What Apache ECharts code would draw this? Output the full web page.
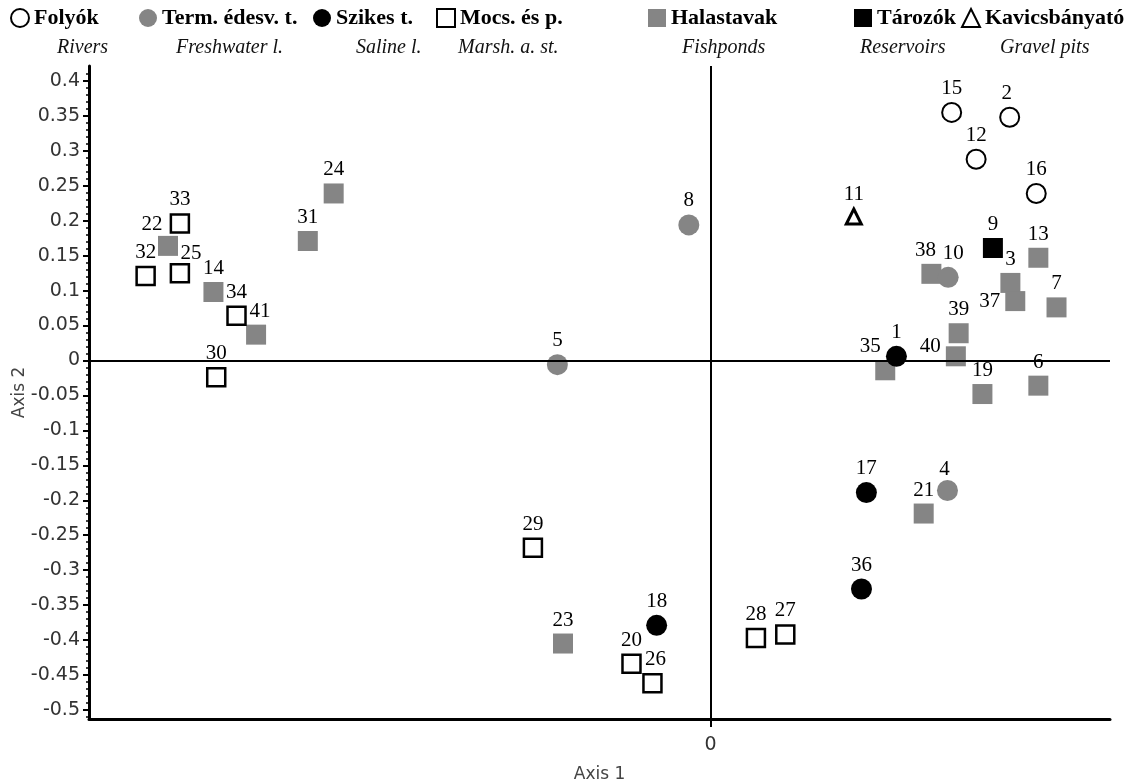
<!DOCTYPE html>
<html>
<head>
<meta charset="utf-8">
<script src="https://cdn.jsdelivr.net/npm/echarts@6/dist/echarts.min.js"></script>
<style>html,body{margin:0;padding:0;background:#fff}#c{width:1145px;height:784px}</style>
</head>
<body>
<div id="c"></div>
<script>
// ---- data ----
const seriesNames = ['Folyók','Term. édesv. t.','Szikes t.','Mocs. és p.','Halastavak','Tározók','Kavicsbányató'];
const englishNames = ['Rivers','Freshwater l.','Saline l.','Marsh. a. st.','Fishponds','Reservoirs','Gravel pits'];

const riversId = [15, 2, 12, 16];
const riversX  = [0.345, 0.428, 0.380, 0.466];
const riversY  = [0.355, 0.348, 0.288, 0.239];

const freshId = [8, 5, 10, 4];
const freshX  = [-0.031, -0.219, 0.340, 0.339];
const freshY  = [0.194, -0.006, 0.119, -0.186];

const salineId = [1, 17, 36, 18];
const salineX  = [0.266, 0.223, 0.216, -0.077];
const salineY  = [0.006, -0.189, -0.327, -0.379];

const marshId = [33, 32, 25, 34, 30, 29, 20, 26, 28, 27];
const marshX  = [-0.759, -0.808, -0.759, -0.678, -0.707, -0.254, -0.113, -0.083, 0.065, 0.107];
const marshY  = [0.196, 0.121, 0.125, 0.064, -0.024, -0.268, -0.434, -0.462, -0.397, -0.392];

const fishId = [24, 31, 22, 14, 41, 23, 38, 13, 3, 37, 7, 39, 40, 35, 19, 6, 21];
const fishX  = [-0.539, -0.576, -0.776, -0.711, -0.650, -0.211, 0.316, 0.469, 0.429, 0.436, 0.495, 0.355, 0.351, 0.250, 0.389, 0.469, 0.305];
const fishY  = [0.239, 0.171, 0.164, 0.098, 0.037, -0.405, 0.124, 0.147, 0.111, 0.085, 0.076, 0.039, 0.006, -0.014, -0.048, -0.036, -0.219];

const resId = [9];
const resX  = [0.404];
const resY  = [0.161];

const gravelId = [11];
const gravelX  = [0.205];
const gravelY  = [0.206];

const yTickLabels = [0.4, 0.35, 0.3, 0.25, 0.2, 0.15, 0.1, 0.05, 0, -0.05, -0.1, -0.15, -0.2, -0.25, -0.3, -0.35, -0.4, -0.45, -0.5];
const xTickLabels = [0];

// ---- layout tweaks for point labels ----
const labelTweaks = {
  22: {offset: [-16, 2]},
  25: {offset: [11, 4]},
  35: {offset: [-15, 0]},
  37: {position: 'left', distance: 5},
  40: {position: 'left', distance: 5, offset: [0, -10]},
  10: {offset: [5, 0]},
  38: {offset: [-6, 0]},
  2:  {offset: [-3, 0]},
  41: {offset: [4, 0]},
  26: {offset: [3, 0]},
  4:  {offset: [-3, 3]}
};

const yMinorTicks = [];
for (let k = -51; k <= 41; k++) yMinorTicks.push(k / 100);

function build(ids, xs, ys) {
  return ids.map((id, i) => {
    const item = {value: [xs[i], ys[i], id]};
    if (labelTweaks[id]) item.label = labelTweaks[id];
    return item;
  });
}

const GRAY = '#858585';
const labelStyle = {
  show: true, position: 'top', distance: 3,
  formatter: p => String(p.value[2]),
  fontFamily: '"Liberation Serif", serif', fontSize: 21, color: '#000'
};

function mkSeries(name, ids, xs, ys, symbol, size, itemStyle, z) {
  return {
    type: 'scatter', name, symbol, symbolSize: size, z,
    data: build(ids, xs, ys),
    itemStyle: Object.assign({opacity: 1}, itemStyle),
    label: labelStyle,
    emphasis: {disabled: true}
  };
}

const series = [
  mkSeries(seriesNames[4], fishId, fishX, fishY, 'rect', 20, {color: GRAY}, 2),
  mkSeries(seriesNames[0], riversId, riversX, riversY, 'circle', 19, {color: '#fff', borderColor: '#000', borderWidth: 2}, 3),
  mkSeries(seriesNames[1], freshId, freshX, freshY, 'circle', 21, {color: GRAY}, 3),
  mkSeries(seriesNames[2], salineId, salineX, salineY, 'circle', 21, {color: '#000'}, 3),
  mkSeries(seriesNames[3], marshId, marshX, marshY, 'rect', 18, {color: '#fff', borderColor: '#000', borderWidth: 2.5}, 3),
  mkSeries(seriesNames[5], resId, resX, resY, 'rect', 20, {color: '#000'}, 3),
  mkSeries(seriesNames[6], gravelId, gravelX, gravelY, 'triangle', 15, {color: '#fff', borderColor: '#000', borderWidth: 3}, 3)
];
// zero reference lines
series.push({
  type: 'scatter', data: [], silent: true, z: 1,
  markLine: {
    silent: true, symbol: 'none', animation: false,
    label: {show: false},
    lineStyle: {color: '#000', width: 2, type: 'solid', opacity: 1},
    data: [{yAxis: 0}, {xAxis: 0}]
  }
});

const legendLeft = [5, 134, 308, 431, 643, 849, 956];
const engLeft = [57, 176, 356, 458, 682, 860, 1000];

const legends = seriesNames.map((n, i) => ({
  left: legendLeft[i], top: 2, data: [n], itemWidth: 18, itemHeight: 18, itemGap: 0,
  selectedMode: false,
  textStyle: {fontFamily: '"Liberation Serif", serif', fontWeight: 'bold', fontSize: 22, color: '#000'}
}));

const graphics = englishNames.map((t, i) => ({
  type: 'text', left: engLeft[i], top: 38,
  style: {text: t, font: 'italic 20px "Liberation Serif", serif', fill: '#111'}
}));

const tickFont = {fontFamily: '"DejaVu Sans", sans-serif', fontSize: 19, color: '#333'};

const option = {
  animation: false,
  backgroundColor: '#fff',
  legend: legends,
  graphic: graphics,
  grid: {left: 89, right: 35, top: 66, bottom: 65, containLabel: false, outerBoundsMode: 'none'},
  xAxis: [{
    type: 'value', min: -0.889, max: 0.5715, position: 'bottom',
    name: 'Axis 1', nameLocation: 'middle', nameGap: 47, nameMoveOverlap: false,
    nameTextStyle: {fontFamily: '"DejaVu Sans", sans-serif', fontSize: 17, color: '#444', verticalAlign: 'top'},
    axisLine: {show: true, onZero: false, lineStyle: {color: '#000', width: 3}},
    axisTick: {show: true, customValues: xTickLabels, length: 8, lineStyle: {color: '#000', width: 2}},
    axisLabel: Object.assign({show: true, customValues: xTickLabels, margin: 17, formatter: v => String(v)}, tickFont),
    splitLine: {show: false}
  }],
  yAxis: [{
    type: 'value', min: -0.513, max: 0.4214, position: 'left',
    name: 'Axis 2', nameLocation: 'middle', nameGap: 61, nameRotate: 90, nameMoveOverlap: false,
    nameTextStyle: {fontFamily: '"DejaVu Sans", sans-serif', fontSize: 17, color: '#444'},
    axisLine: {show: true, onZero: false, lineStyle: {color: '#000', width: 3}},
    axisTick: {show: true, customValues: yTickLabels, length: 6, lineStyle: {color: '#000', width: 2}},
    axisLabel: Object.assign({show: true, customValues: yTickLabels, margin: 9, formatter: v => String(v)}, tickFont),
    splitLine: {show: false}
  }, {
    type: 'value', min: -0.513, max: 0.4214, position: 'left',
    axisLine: {show: false, onZero: false},
    axisTick: {show: true, customValues: yMinorTicks, length: 3, lineStyle: {color: '#000', width: 1.5}},
    axisLabel: {show: false},
    splitLine: {show: false}
  }],
  series
};

const chart = echarts.init(document.getElementById('c'), null, {renderer: 'canvas'});
chart.setOption(option);
</script>
</body>
</html>
